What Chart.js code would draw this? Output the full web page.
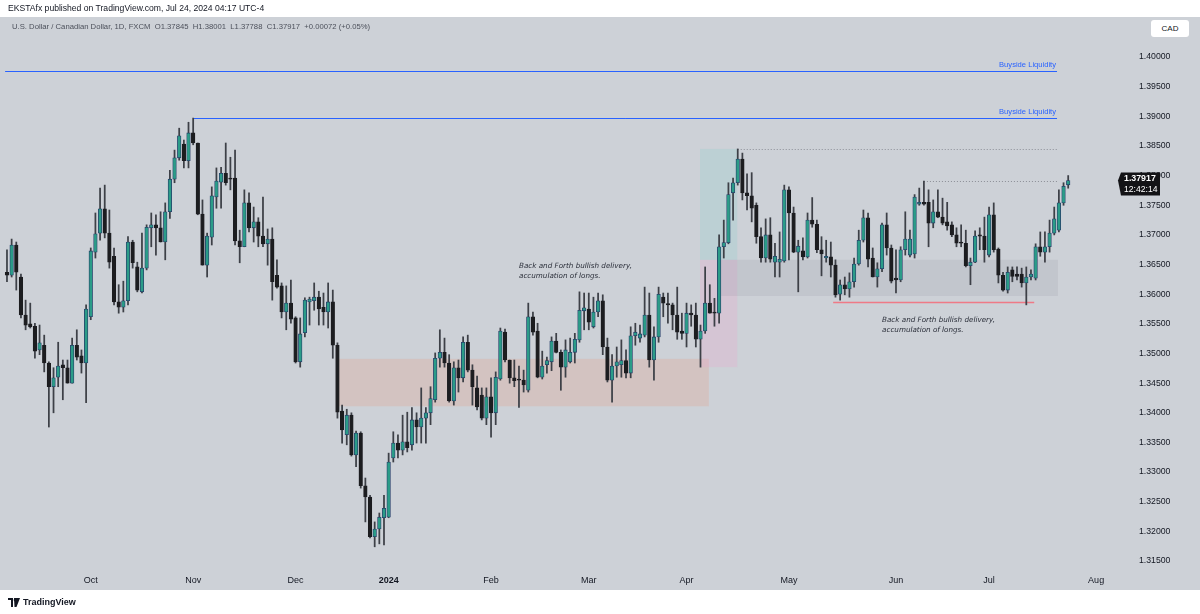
<!DOCTYPE html>
<html><head><meta charset="utf-8">
<script src="https://cdn.jsdelivr.net/npm/chart.js@4.4.1/dist/chart.umd.min.js"></script>
<style>
html,body{margin:0;padding:0;background:#fff;width:1200px;height:614px;overflow:hidden;font-family:"Liberation Sans",Arial,sans-serif}
#bg{position:absolute;left:0;top:17px;width:1200px;height:573px;background:#cdd1d7}
#cv{position:absolute;left:0;top:0}
#h1{position:absolute;left:8px;top:3px;font-size:8.6px;color:#131722;white-space:nowrap}
#h2{position:absolute;left:12px;top:22px;font-size:7.7px;color:#4c505b;white-space:nowrap}
#cad{position:absolute;left:1151px;top:20px;width:38px;height:17px;background:#fff;border-radius:3px;font-size:8px;color:#131722;text-align:center;line-height:17px}
#foot{position:absolute;left:8px;top:597px;font-size:9px;color:#131722;font-weight:bold;display:flex;align-items:center;gap:3px}
</style></head>
<body>
<div id="bg"></div>
<canvas id="cv" width="1200" height="614"></canvas>
<div id="h1">EKSTAfx published on TradingView.com, Jul 24, 2024 04:17 UTC-4</div>
<div id="h2">U.S. Dollar / Canadian Dollar, 1D, FXCM &nbsp;O1.37845 &nbsp;H1.38001 &nbsp;L1.37788 &nbsp;C1.37917 &nbsp;+0.00072 (+0.05%)</div>
<div id="cad">CAD</div>
<div id="foot"><svg width="12" height="9" viewBox="0 0 12 9"><path d="M0 0h5v9H3V2H0z M6 0h6L8.5 9H6.5z" fill="#131722"/><circle cx="7" cy="2" r="1.3" fill="#131722"/></svg><span>TradingView</span></div>
<script>
// ---- data (USD/CAD daily, FXCM) ----
const opens = [1.3637,1.3632,1.3683,1.3629,1.3565,1.3550,1.3546,1.3506,1.3514,1.3484,
1.3444,1.3460,1.3481,1.3476,1.3450,1.3514,1.3496,1.3484,1.3562,1.3671,
1.3703,1.3744,1.3703,1.3664,1.3587,1.3578,1.3589,1.3688,1.3646,1.3604,
1.3644,1.3712,1.3717,1.3712,1.3688,1.3739,1.3794,1.3830,1.3853,1.3825,
1.3872,1.3855,1.3735,1.3649,1.3696,1.3764,1.3789,1.3804,1.3796,1.3796,
1.3690,1.3680,1.3754,1.3712,1.3722,1.3698,1.3685,1.3693,1.3632,1.3614,
1.3570,1.3585,1.3560,1.3486,1.3535,1.3587,1.3589,1.3595,1.3578,1.3570,
1.3587,1.3514,1.3403,1.3363,1.3396,1.3329,1.3366,1.3277,1.3258,1.3191,
1.3204,1.3223,1.3224,1.3324,1.3349,1.3337,1.3351,1.3346,1.3388,1.3376,
1.3391,1.3400,1.3422,1.3492,1.3502,1.3484,1.3420,1.3476,1.3459,1.3519,
1.3472,1.3442,1.3430,1.3391,1.3427,1.3400,1.3457,1.3536,1.3489,1.3459,
1.3457,1.3455,1.3438,1.3562,1.3538,1.3460,1.3481,1.3486,1.3521,1.3502,
1.3477,1.3486,1.3502,1.3523,1.3572,1.3575,1.3545,1.3570,1.3589,1.3511,
1.3455,1.3479,1.3481,1.3488,1.3467,1.3530,1.3526,1.3531,1.3565,1.3489,
1.3528,1.3595,1.3584,1.3582,1.3565,1.3538,1.3534,1.3568,1.3565,1.3524,
1.3538,1.3585,1.3570,1.3568,1.3680,1.3687,1.3771,1.3788,1.3828,1.3771,
1.3766,1.3750,1.3697,1.3661,1.3700,1.3654,1.3654,1.3656,1.3776,1.3737,
1.3671,1.3673,1.3663,1.3725,1.3718,1.3675,1.3661,1.3663,1.3649,1.3600,
1.3616,1.3609,1.3621,1.3651,1.3691,1.3729,1.3661,1.3629,1.3643,1.3717,
1.3678,1.3627,1.3624,1.3675,1.3666,1.3668,1.3752,1.3755,1.3755,1.3720,
1.3739,1.3730,1.3722,1.3717,1.3700,1.3688,1.3686,1.3648,1.3654,1.3700,
1.3698,1.3666,1.3734,1.3676,1.3632,1.3607,1.3641,1.3634,1.3634,1.3619,
1.3629,1.3627,1.3680,1.3671,1.3680,1.3703,1.3708,1.3754,1.37845];
const highs = [1.3675,1.3693,1.3688,1.3634,1.3590,1.3585,1.3551,1.3548,1.3531,1.3486,
1.3476,1.3519,1.3489,1.3489,1.3526,1.3540,1.3506,1.3582,1.3678,1.3737,
1.3779,1.3784,1.3742,1.3678,1.3616,1.3622,1.3697,1.3691,1.3654,1.3703,
1.3717,1.3737,1.3734,1.3739,1.3754,1.3809,1.3843,1.3880,1.3860,1.3890,
1.3897,1.3855,1.3759,1.3703,1.3781,1.3813,1.3814,1.3855,1.3831,1.3843,
1.3708,1.3776,1.3771,1.3747,1.3729,1.3764,1.3710,1.3712,1.3658,1.3619,
1.3614,1.3624,1.3562,1.3560,1.3594,1.3595,1.3619,1.3605,1.3602,1.3619,
1.3607,1.3518,1.3413,1.3406,1.3400,1.3369,1.3368,1.3290,1.3261,1.3216,
1.3231,1.3261,1.3332,1.3368,1.3363,1.3396,1.3401,1.3409,1.3400,1.3442,
1.3409,1.3444,1.3501,1.3540,1.3526,1.3498,1.3486,1.3489,1.3528,1.3531,
1.3481,1.3462,1.3442,1.3442,1.3459,1.3469,1.3543,1.3541,1.3489,1.3489,
1.3479,1.3472,1.3585,1.3570,1.3551,1.3504,1.3494,1.3528,1.3534,1.3506,
1.3523,1.3526,1.3534,1.3604,1.3602,1.3602,1.3595,1.3602,1.3599,1.3526,
1.3498,1.3511,1.3523,1.3506,1.3545,1.3551,1.3548,1.3612,1.3602,1.3545,
1.3612,1.3602,1.3602,1.3585,1.3612,1.3568,1.3585,1.3582,1.3585,1.3548,
1.3646,1.3616,1.3593,1.3700,1.3725,1.3788,1.3796,1.3845,1.3838,1.3803,
1.3805,1.3754,1.3712,1.3727,1.3729,1.3686,1.3705,1.3784,1.3781,1.3747,
1.3691,1.3695,1.3737,1.3763,1.3725,1.3697,1.3691,1.3688,1.3658,1.3624,
1.3629,1.3636,1.3661,1.3708,1.3742,1.3737,1.3678,1.3653,1.3720,1.3737,
1.3683,1.3675,1.3680,1.3739,1.3708,1.3768,1.3779,1.3791,1.3776,1.3759,
1.3776,1.3762,1.3755,1.3722,1.3712,1.3717,1.3708,1.3661,1.3707,1.3712,
1.3730,1.3747,1.3754,1.3678,1.3637,1.3646,1.3646,1.3646,1.3644,1.3646,
1.3641,1.3685,1.3705,1.3705,1.3725,1.3747,1.3776,1.3788,1.38001];
const lows = [1.3621,1.3629,1.3607,1.3560,1.3540,1.3543,1.3492,1.3498,1.3469,1.3376,
1.3400,1.3444,1.3422,1.3450,1.3450,1.3489,1.3467,1.3417,1.3557,1.3661,
1.3691,1.3695,1.3644,1.3582,1.3568,1.3570,1.3582,1.3644,1.3604,1.3602,
1.3641,1.3680,1.3666,1.3688,1.3658,1.3728,1.3788,1.3826,1.3813,1.3813,
1.3852,1.3734,1.3649,1.3629,1.3683,1.3745,1.3745,1.3784,1.3776,1.3683,
1.3653,1.3680,1.3705,1.3688,1.3680,1.3680,1.3649,1.3590,1.3610,1.3560,
1.3540,1.3551,1.3484,1.3477,1.3528,1.3548,1.3573,1.3548,1.3548,1.3543,
1.3492,1.3391,1.3349,1.3346,1.3327,1.3309,1.3273,1.3216,1.3189,1.3174,
1.3179,1.3177,1.3223,1.3317,1.3324,1.3329,1.3334,1.3337,1.3349,1.3349,
1.3349,1.3380,1.3418,1.3477,1.3477,1.3418,1.3413,1.3435,1.3452,1.3469,
1.3413,1.3405,1.3388,1.3380,1.3359,1.3380,1.3455,1.3486,1.3450,1.3444,
1.3409,1.3435,1.3435,1.3531,1.3459,1.3457,1.3467,1.3471,1.3501,1.3438,
1.3460,1.3484,1.3484,1.3519,1.3540,1.3540,1.3543,1.3562,1.3498,1.3452,
1.3418,1.3460,1.3460,1.3459,1.3459,1.3514,1.3519,1.3528,1.3477,1.3455,
1.3519,1.3562,1.3551,1.3540,1.3524,1.3524,1.3511,1.3546,1.3511,1.3477,
1.3534,1.3568,1.3546,1.3551,1.3661,1.3685,1.3725,1.3784,1.3759,1.3742,
1.3722,1.3686,1.3654,1.3654,1.3654,1.3629,1.3629,1.3654,1.3658,1.3670,
1.3604,1.3658,1.3661,1.3713,1.3670,1.3631,1.3654,1.3629,1.3595,1.3590,
1.3599,1.3595,1.3612,1.3649,1.3688,1.3646,1.3629,1.3612,1.3638,1.3666,
1.3619,1.3602,1.3621,1.3666,1.3663,1.3661,1.3750,1.3750,1.3680,1.3712,
1.3729,1.3717,1.3708,1.3697,1.3680,1.3680,1.3646,1.3616,1.3653,1.3675,
1.3654,1.3663,1.3671,1.3619,1.3605,1.3602,1.3621,1.3624,1.3612,1.3582,
1.3624,1.3624,1.3664,1.3654,1.3671,1.3700,1.3705,1.3750,1.37788];
const closes = [1.3632,1.3683,1.3637,1.3565,1.3548,1.3545,1.3504,1.3518,1.3484,1.3444,
1.3459,1.3479,1.3476,1.3450,1.3514,1.3494,1.3484,1.3575,1.3673,1.3702,
1.3744,1.3703,1.3654,1.3587,1.3578,1.3589,1.3688,1.3653,1.3607,1.3644,
1.3713,1.3717,1.3712,1.3688,1.3739,1.3794,1.3830,1.3867,1.3825,1.3872,
1.3855,1.3735,1.3649,1.3698,1.3766,1.3791,1.3804,1.3788,1.3794,1.3690,
1.3680,1.3754,1.3712,1.3722,1.3698,1.3685,1.3693,1.3621,1.3612,1.3570,
1.3585,1.3558,1.3486,1.3533,1.3590,1.3592,1.3595,1.3575,1.3570,1.3587,
1.3514,1.3401,1.3371,1.3396,1.3329,1.3366,1.3277,1.3258,1.3191,1.3204,
1.3224,1.3239,1.3317,1.3349,1.3337,1.3351,1.3341,1.3388,1.3376,1.3391,
1.3400,1.3424,1.3492,1.3502,1.3484,1.3420,1.3476,1.3459,1.3519,1.3472,
1.3444,1.3410,1.3391,1.3427,1.3400,1.3460,1.3538,1.3489,1.3459,1.3454,
1.3455,1.3447,1.3562,1.3536,1.3460,1.3479,1.3488,1.3521,1.3502,1.3477,
1.3506,1.3502,1.3524,1.3573,1.3577,1.3553,1.3570,1.3589,1.3511,1.3455,
1.3479,1.3486,1.3488,1.3467,1.3530,1.3536,1.3533,1.3565,1.3489,1.3528,
1.3600,1.3585,1.3582,1.3565,1.3536,1.3534,1.3568,1.3565,1.3524,1.3538,
1.3585,1.3568,1.3568,1.3680,1.3687,1.3768,1.3788,1.3828,1.3771,1.3766,
1.3745,1.3697,1.3661,1.3700,1.3659,1.3664,1.3659,1.3776,1.3737,1.3671,
1.3681,1.3663,1.3725,1.3718,1.3675,1.3668,1.3664,1.3649,1.3599,1.3616,
1.3609,1.3621,1.3651,1.3691,1.3729,1.3659,1.3629,1.3643,1.3717,1.3678,
1.3622,1.3624,1.3675,1.3693,1.3693,1.3764,1.3755,1.3752,1.3720,1.3739,
1.3730,1.3720,1.3715,1.3700,1.3686,1.3686,1.3648,1.3654,1.3698,1.3698,
1.3675,1.3734,1.3675,1.3632,1.3607,1.3637,1.3630,1.3630,1.3619,1.3629,
1.3634,1.3680,1.3671,1.3680,1.3703,1.3727,1.3754,1.3782,1.37917];

// price-axis tick labels
const priceTicks = [1.315,1.320,1.325,1.330,1.335,1.340,1.345,1.350,1.355,1.360,1.365,1.370,1.375,1.380,1.385,1.390,1.395,1.400];
const monthNames = ['Jan','Feb','Mar','Apr','May','Jun','Jul','Aug','Sep','Oct','Nov','Dec'];
const firstSession = '2023-09-06';
const closedDays = ['12-25','01-01'];

// drawn levels (price, from bar index, to bar index)
const levelPrice = [1.3977, 1.3897, 1.3845, 1.3791, 1.3587];
const levelFrom  = [-0.4, 40, 157, 197, 177.5];
const levelTo    = [225.6, 225.6, 225.6, 225.6, 220.7];
const levelText  = ['Buyside Liquidity', 'Buyside Liquidity', '', '', ''];
// zones (from/to bar index, top/bottom price)
const zoneFrom = [70.9, 148.9, 148.9, 152.8];
const zoneTo   = [150.8, 156.9, 156.9, 225.8];
const zoneTop  = [1.3491, 1.3845, 1.3658, 1.3658];
const zoneBot  = [1.3411, 1.3658, 1.3477, 1.3597];
// notes
const noteLines = ['Back and Forth bullish delivery,', 'accumulation of longs.'];
const noteAtBar = [110, 188];
const noteAtPrice = [1.3648, 1.3556];
const lastClock = '12:42:14';

// ---- sessions (weekdays, exchange holidays skipped) ----
const sessions = [];
{
  const d = new Date(firstSession + 'T12:00:00Z');
  while (sessions.length < 245) {
    const wd = d.getUTCDay();
    const md = String(d.getUTCMonth()+1).padStart(2,'0') + '-' + String(d.getUTCDate()).padStart(2,'0');
    if (wd !== 0 && wd !== 6 && !closedDays.includes(md)) sessions.push(new Date(d));
    d.setUTCDate(d.getUTCDate()+1);
  }
}
const monthTickIdx = [], monthTickLabel = [];
for (let i = 1; i < sessions.length; i++) {
  if (sessions[i].getUTCMonth() !== sessions[i-1].getUTCMonth()) {
    monthTickIdx.push(i);
    const m = sessions[i].getUTCMonth();
    monthTickLabel.push(m === 0 ? String(sessions[i].getUTCFullYear()) : monthNames[m]);
  }
}

// ---- styles ----
const UP = '#2b9c88', UP_EDGE = '#27406a', DOWN = '#1c1d20', WICK = '#3d4047';
const zoneColors = ['rgba(226,168,150,0.33)','rgba(150,205,205,0.30)','rgba(232,170,205,0.30)','rgba(120,124,138,0.13)'];
const levelColors = ['#2962ff','#2962ff','#8a8d96','#8a8d96','#ef7a86'];
const levelDash = [[],[],[1,2],[1,2],[]];
const levelWidth = [1,1,1,1,1.5];
const FONT = '"Liberation Sans", Arial, sans-serif';

const isUp = i => closes[i] >= opens[i];

const overlay = {
  id: 'overlay',
  beforeDatasetsDraw(chart) {
    const {ctx, chartArea: a, scales: {x, y}} = chart;
    ctx.save();
    ctx.beginPath(); ctx.rect(a.left, a.top, a.right - a.left, a.bottom - a.top); ctx.clip();
    zoneFrom.forEach((f, i) => {
      const x0 = x.getPixelForValue(f), x1 = x.getPixelForValue(zoneTo[i]);
      const y0 = y.getPixelForValue(zoneTop[i]), y1 = y.getPixelForValue(zoneBot[i]);
      ctx.fillStyle = zoneColors[i];
      ctx.fillRect(x0, y0, x1 - x0, y1 - y0);
    });
    levelPrice.forEach((p, i) => {
      const yy = Math.round(y.getPixelForValue(p)) + 0.5;
      ctx.strokeStyle = levelColors[i]; ctx.lineWidth = levelWidth[i]; ctx.setLineDash(levelDash[i]);
      ctx.beginPath(); ctx.moveTo(x.getPixelForValue(levelFrom[i]), yy); ctx.lineTo(x.getPixelForValue(levelTo[i]), yy); ctx.stroke();
      if (levelText[i]) {
        ctx.fillStyle = levelColors[i]; ctx.font = '7.6px ' + FONT;
        ctx.textAlign = 'right'; ctx.textBaseline = 'bottom';
        ctx.fillText(levelText[i], x.getPixelForValue(levelTo[i]) - 1, yy - 3);
      }
    });
    ctx.setLineDash([]);
    ctx.fillStyle = '#2a2e39'; ctx.font = 'italic 7.2px "DejaVu Sans", sans-serif';
    ctx.textAlign = 'left'; ctx.textBaseline = 'middle';
    noteAtBar.forEach((b, i) => {
      const px = x.getPixelForValue(b), py = y.getPixelForValue(noteAtPrice[i]);
      noteLines.forEach((t, k) => ctx.fillText(t, px, py + k * 10));
    });
    ctx.restore();
  },
  afterDraw(chart) {
    const {ctx, chartArea: a, scales: {y}} = chart;
    const last = closes[closes.length - 1];
    const py = y.getPixelForValue(last);
    ctx.save();
    ctx.fillStyle = '#131316';
    ctx.beginPath();
    ctx.moveTo(a.right, py);
    ctx.lineTo(a.right + 3, py - 8);
    ctx.lineTo(a.right + 42, py - 8);
    ctx.lineTo(a.right + 42, py + 15);
    ctx.lineTo(a.right + 3, py + 15);
    ctx.closePath(); ctx.fill();
    ctx.fillStyle = '#ffffff'; ctx.textAlign = 'left'; ctx.textBaseline = 'middle';
    ctx.font = 'bold 8.8px ' + FONT;
    ctx.fillText(last.toFixed(5), a.right + 6, py - 1.5);
    ctx.font = '8.6px ' + FONT;
    ctx.fillText(lastClock, a.right + 6, py + 9);
    ctx.restore();
  }
};

new Chart(document.getElementById('cv'), {
  type: 'bar',
  data: {
    datasets: [
      {
        label: 'body',
        data: opens.map((o, i) => ({x: i, y: [o, closes[i]]})),
        backgroundColor: c => isUp(c.dataIndex) ? UP : DOWN,
        borderColor: c => isUp(c.dataIndex) ? UP_EDGE : DOWN,
        borderWidth: 0.8,
        borderSkipped: false,
        barThickness: 3.6,
        minBarLength: 1.2,
        grouped: false,
        order: 1
      },
      {
        label: 'wick',
        data: lows.map((l, i) => ({x: i, y: [Math.min(l, opens[i], closes[i]), Math.max(highs[i], opens[i], closes[i])]})),
        backgroundColor: WICK,
        borderWidth: 0,
        barThickness: 1.1,
        grouped: false,
        order: 2
      }
    ]
  },
  options: {
    responsive: false,
    animation: false,
    events: [],
    layout: {padding: {top: 17, bottom: 24, left: 0, right: 0}},
    plugins: {legend: {display: false}, tooltip: {enabled: false}},
    scales: {
      x: {
        type: 'linear', min: -1.5, max: 238.7, offset: false,
        grid: {display: false, drawTicks: false}, border: {display: false},
        afterBuildTicks: s => { s.ticks = monthTickIdx.map(v => ({value: v})); },
        afterFit: s => { s.height = 20; s.paddingLeft = 0; s.paddingRight = 0; },
        ticks: {
          autoSkip: false, maxRotation: 0, padding: 5, color: '#131722',
          font: c => ({family: FONT, size: 9, weight: (c.tick && /^\d{4}$/.test(c.tick.label)) ? 'bold' : 'normal'}),
          callback: v => monthTickLabel[monthTickIdx.indexOf(v)] ?? ''
        }
      },
      y: {
        position: 'right', min: 1.31349, max: 1.40675,
        grid: {display: false, drawTicks: false}, border: {display: false},
        afterBuildTicks: s => { s.ticks = priceTicks.map(v => ({value: v})); },
        afterFit: s => { s.width = 82; s.paddingTop = 0; s.paddingBottom = 0; },
        ticks: {
          padding: 21, color: '#131722',
          font: {family: FONT, size: 8.7},
          callback: v => Number(v).toFixed(5)
        }
      }
    }
  },
  plugins: [overlay]
});
</script>
</body></html>
